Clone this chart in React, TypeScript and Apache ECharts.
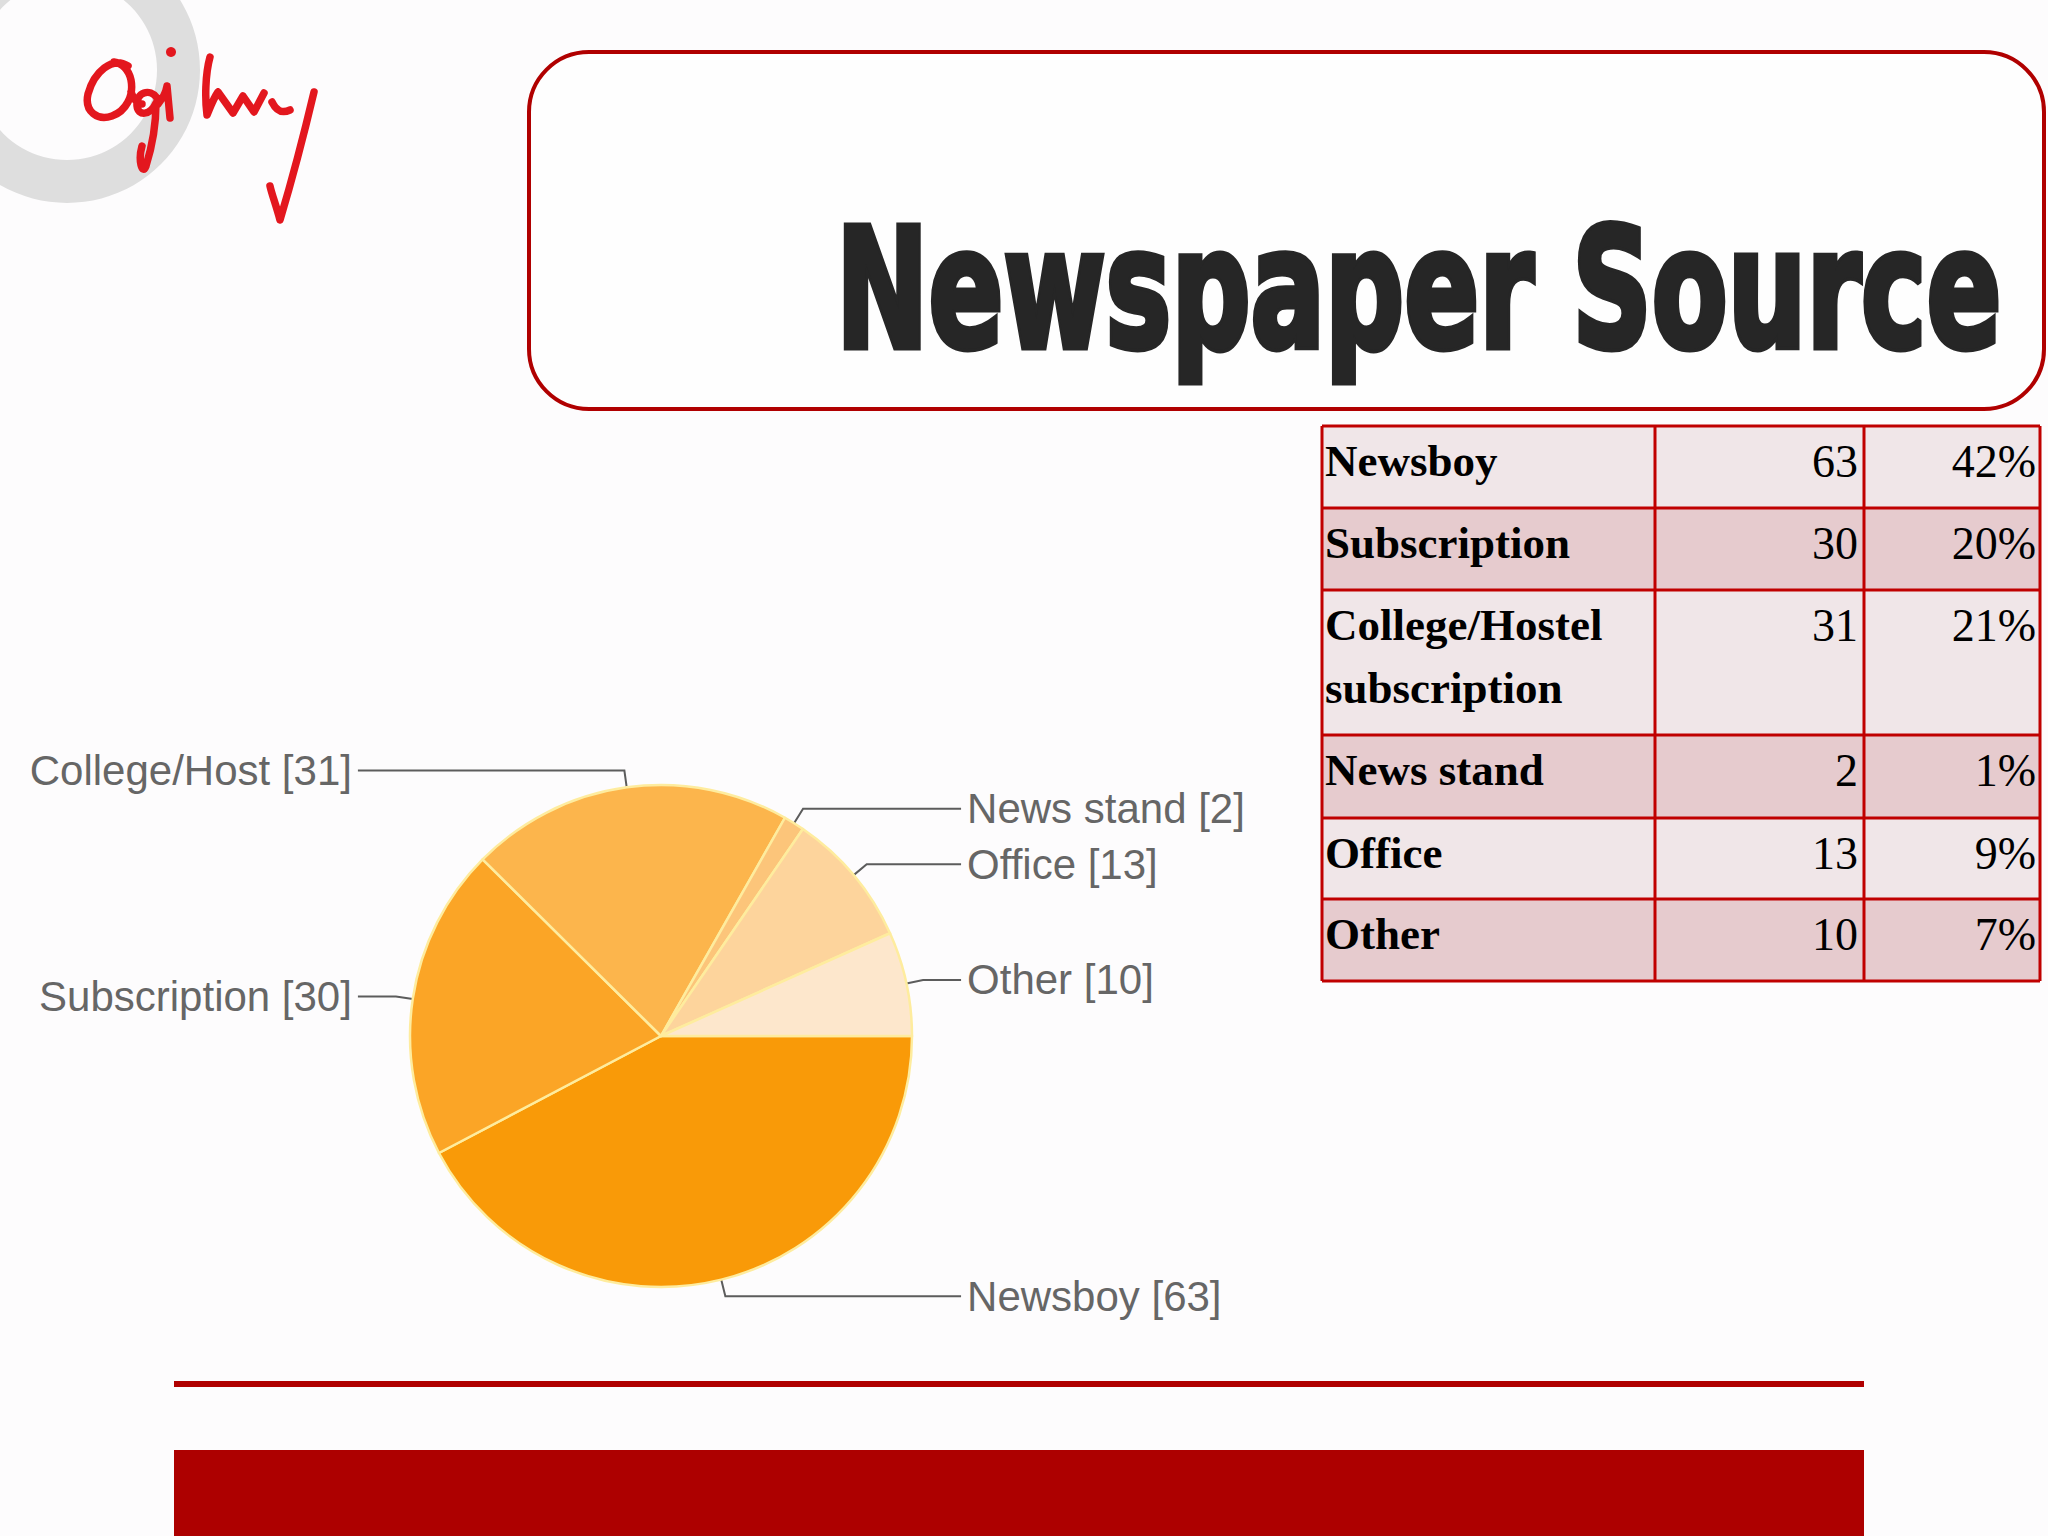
import React, { useEffect, useRef } from "react";
import * as echarts from "echarts";

// ---- data ----
const pieNames = ["Newsboy", "Subscription", "College/Host", "News stand", "Office", "Other"];
const pieValues = [63, 30, 31, 2, 13, 10];
const pieColors = ["#f99a08", "#fba526", "#fcb54c", "#fcc57a", "#fdd49c", "#fde7cc"];

const tableLabels = [["Newsboy"], ["Subscription"], ["College/Hostel", "subscription"], ["News stand"], ["Office"], ["Other"]];
const tableCounts = ["63", "30", "31", "2", "13", "10"];
const tablePercents = ["42%", "20%", "21%", "1%", "9%", "7%"];

const titleText = "Newspaper Source";
const logoPath =
  "M128 66 C112 56 94 72 88 94 C84 112 98 121 112 116 C126 111 134 96 131 80 C129 70 122 63 114 62 " +
  "M131 92 C134 100 138 104 142 104 " +
  "M157 98 C150 88 136 92 137 106 C138 116 150 116 156 103 C156 125 151 150 146 166 C142 176 138 160 142 146 " +
  "M158 104 C163 98 166 92 167 86 L170 118 " +
  "M210 57 C205 75 205 100 207 115 C210 108 213 99 218 92 " +
  "M218 92 L233 113 L243 96 L254 112 L264 93 " +
  "M272 102 C276 110 281 114 290 110 " +
  "M314 92 C305 130 292 180 280 220 C276 205 272 195 270 186";

// ---- layout ----
const rowEdges = [426, 508, 590, 735, 818, 899, 981];
const colEdges = [1322, 1655, 1864, 2040];
const rowFill = ["#f0e6e8", "#e6cbce"];

let registered = false;

export default function App() {
  const ref = useRef<HTMLDivElement>(null);

  useEffect(() => {
    if (!ref.current) return;
    if (!registered) {
      echarts.graphic.registerShape("ogilvyLogo", echarts.graphic.extendPath(logoPath, {}));
      registered = true;
    }
    const chart = echarts.init(ref.current, undefined, { renderer: "svg" });

    // measure title to fit its width
    const titleFont = 'bold 165px "DejaVu Sans"';
    let titleScale = 0.65;
    try {
      const ctx = document.createElement("canvas").getContext("2d");
      if (ctx) {
        ctx.font = titleFont;
        const w = ctx.measureText(titleText).width;
        if (w > 0) titleScale = 1166 / w;
      }
    } catch (e) {}

    const serif = "Liberation Serif, Times New Roman, serif";
    const graphics: any[] = [];
    // grey ring behind logo
    graphics.push({ type: "ring", z: 1, shape: { cx: 67, cy: 70, r: 133, r0: 90 }, style: { fill: "#dedede" } });
    graphics.push({
      type: "ogilvyLogo",
      z: 2,
      x: 0,
      y: 0,
      style: { fill: "none", stroke: "#e3171e", lineWidth: 7.5, lineCap: "round", lineJoin: "round" },
    });
    graphics.push({ type: "circle", z: 2, shape: { cx: 171, cy: 52, r: 5 }, style: { fill: "#e3171e" } });

    // title box
    graphics.push({
      type: "rect",
      z: 1,
      shape: { x: 529, y: 52, width: 1515, height: 357, r: 60 },
      style: { fill: "#fefefe", stroke: "#b00000", lineWidth: 4 },
    });
    graphics.push({
      type: "text",
      z: 3,
      x: 836,
      y: 290,
      scaleX: titleScale,
      scaleY: 1,
      style: {
        text: titleText,
        fontSize: 165,
        fontWeight: "bold",
        fontFamily: "DejaVu Sans",
        fill: "#262626",
        stroke: "#262626",
        lineWidth: 7,
        align: "left",
        verticalAlign: "middle",
      },
    });

    // table
    for (let i = 0; i < tableLabels.length; i++) {
      const top = rowEdges[i];
      const h = rowEdges[i + 1] - top;
      graphics.push({
        type: "rect",
        z: 1,
        shape: { x: colEdges[0], y: top, width: colEdges[3] - colEdges[0], height: h },
        style: { fill: rowFill[i % 2] },
      });
      tableLabels[i].forEach((line, j) => {
        graphics.push({
          type: "text",
          z: 3,
          x: colEdges[0] + 3,
          y: top + 35 + j * 63,
          style: {
            text: line,
            fontSize: 45,
            fontWeight: "bold",
            fontFamily: serif,
            fill: "#000",
            align: "left",
            verticalAlign: "middle",
          },
        });
      });
      graphics.push({
        type: "text",
        z: 3,
        x: colEdges[2] - 6,
        y: top + 35,
        style: {
          text: tableCounts[i],
          fontSize: 46,
          fontFamily: serif,
          fill: "#000",
          align: "right",
          verticalAlign: "middle",
        },
      });
      graphics.push({
        type: "text",
        z: 3,
        x: colEdges[3] - 4,
        y: top + 35,
        style: {
          text: tablePercents[i],
          fontSize: 46,
          fontFamily: serif,
          fill: "#000",
          align: "right",
          verticalAlign: "middle",
        },
      });
    }
    rowEdges.forEach((y) => {
      graphics.push({
        type: "line",
        z: 4,
        shape: { x1: colEdges[0], y1: y, x2: colEdges[3], y2: y },
        style: { stroke: "#c00000", lineWidth: 3 },
      });
    });
    colEdges.forEach((x) => {
      graphics.push({
        type: "line",
        z: 4,
        shape: { x1: x, y1: rowEdges[0], x2: x, y2: rowEdges[rowEdges.length - 1] },
        style: { stroke: "#c00000", lineWidth: 3 },
      });
    });

    // bottom decorations
    graphics.push({ type: "rect", z: 1, shape: { x: 174, y: 1381, width: 1690, height: 6 }, style: { fill: "#b00000" } });
    graphics.push({ type: "rect", z: 1, shape: { x: 174, y: 1450, width: 1690, height: 90 }, style: { fill: "#ad0000" } });

    chart.setOption({
      animation: false,
      backgroundColor: "#fdfcfd",
      graphic: { elements: graphics },
      series: [
        {
          type: "pie",
          center: [661, 1036],
          radius: 251,
          startAngle: 0,
          clockwise: true,
          avoidLabelOverlap: true,
          data: pieNames.map((n, i) => ({ name: n, value: pieValues[i], itemStyle: { color: pieColors[i] } })),
          itemStyle: { borderColor: "#feec9e", borderWidth: 2.5 },
          label: {
            show: true,
            position: "outer",
            alignTo: "labelLine",
            distanceToLabelLine: 6,
            formatter: "{b} [{c}]",
            color: "#666666",
            fontSize: 42,
            fontFamily: "Liberation Sans, Arial, sans-serif",
          },
          labelLine: {
            show: true,
            length: 17,
            length2: 38,
            smooth: false,
            lineStyle: { color: "#5c5c5c", width: 2 },
          },
          emphasis: { disabled: true },
        },
      ],
    });

    return () => chart.dispose();
  }, []);

  return <div ref={ref} style={{ position: "fixed", left: 0, top: 0, width: 2048, height: 1536 }} />;
}
